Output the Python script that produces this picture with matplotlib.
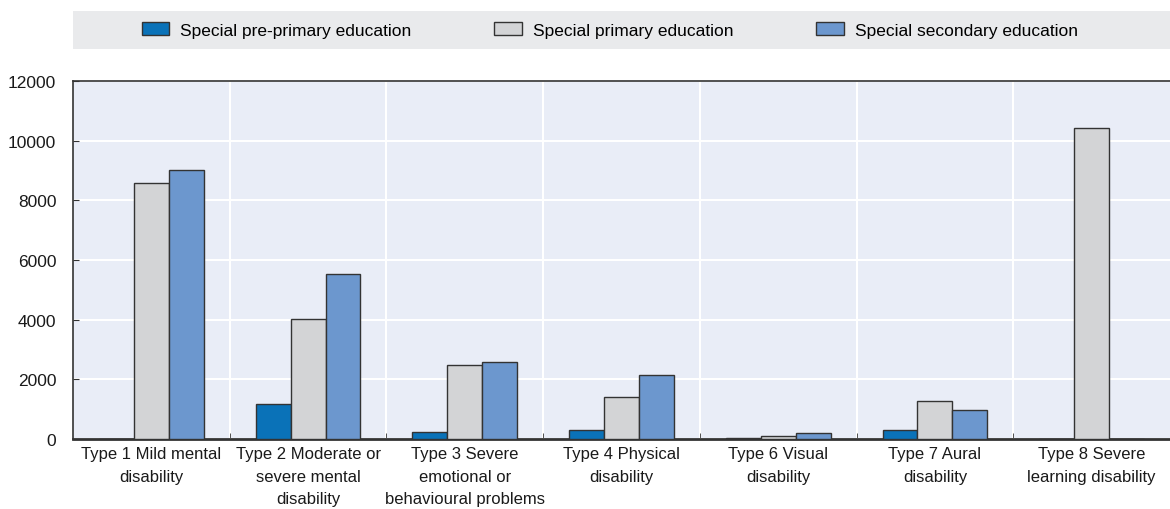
import matplotlib
matplotlib.use("Agg")
import numpy as np
from matplotlib import pyplot as plt
from matplotlib.patches import Rectangle

categories = [
    "Type 1 Mild mental\ndisability",
    "Type 2 Moderate or\nsevere mental\ndisability",
    "Type 3 Severe\nemotional or\nbehavioural problems",
    "Type 4 Physical\ndisability",
    "Type 6 Visual\ndisability",
    "Type 7 Aural\ndisability",
    "Type 8 Severe\nlearning disability",
]
pre_primary = [0, 1170, 235, 310, 30, 290, 0]
primary = [8580, 4020, 2480, 1410, 100, 1280, 10440]
secondary = [9020, 5530, 2580, 2145, 210, 990, 0]
series_names = ["Special pre-primary education", "Special primary education",
                "Special secondary education"]
colors = ["#0a72b8", "#d3d4d6", "#6c97ce"]
y_ticks = [0, 2000, 4000, 6000, 8000, 10000, 12000]

plt.rcParams["font.family"] = ["Liberation Sans", "DejaVu Sans"]
plt.rcParams["font.size"] = 12

fig = plt.figure(figsize=(11.7, 5.1), dpi=100)
ax = fig.add_axes([0.0624, 0.137, 0.9376, 0.702])
ax.set_facecolor("#e9edf7")

x = np.arange(len(categories))
w = 0.223
for i, (vals, name, col) in enumerate(zip([pre_primary, primary, secondary], series_names, colors)):
    ax.bar(x + (i - 1) * w, vals, w, color=col, edgecolor="#333333", linewidth=1.0,
           label=name, zorder=3)

ax.set_xlim(-0.5, len(categories) - 0.5)
ax.set_ylim(0, 12000)
ax.set_yticks(y_ticks)
ax.set_yticklabels([str(t) for t in y_ticks], color="#1a1a1a", fontsize=12.5)
ax.set_xticks(x)
ax.set_xticklabels(categories, color="#1a1a1a", linespacing=1.62)
ax.set_xticks(np.arange(0.5, len(categories) - 0.5), minor=True)
ax.tick_params(axis="x", which="major", length=0, pad=5)
ax.tick_params(axis="x", which="minor", direction="in", length=4, color="#333333")
ax.tick_params(axis="y", direction="in", length=4, color="#333333", pad=12)
ax.grid(axis="y", color="white", linewidth=1.5, zorder=0)
ax.grid(axis="x", which="minor", color="white", linewidth=1.5, zorder=0)
ax.set_axisbelow(True)
ax.spines["right"].set_visible(False)
for s in ["left", "top", "bottom"]:
    ax.spines[s].set_color("#333333")
    ax.spines[s].set_linewidth(1.2)
ax.spines["bottom"].set_linewidth(2)

fig.patches.append(Rectangle((0.0624, 0.902), 0.9376, 0.074, transform=fig.transFigure,
                             facecolor="#e9eaec", edgecolor="none", zorder=0))
handles, labels = ax.get_legend_handles_labels()
fig.legend(handles, labels, loc="center", bbox_to_anchor=(0.521, 0.939), ncol=3,
           frameon=False, handlelength=1.6, handleheight=0.75, columnspacing=4.8,
           handletextpad=0.6, fontsize=12.5)

fig.savefig("out.png", dpi=100)
